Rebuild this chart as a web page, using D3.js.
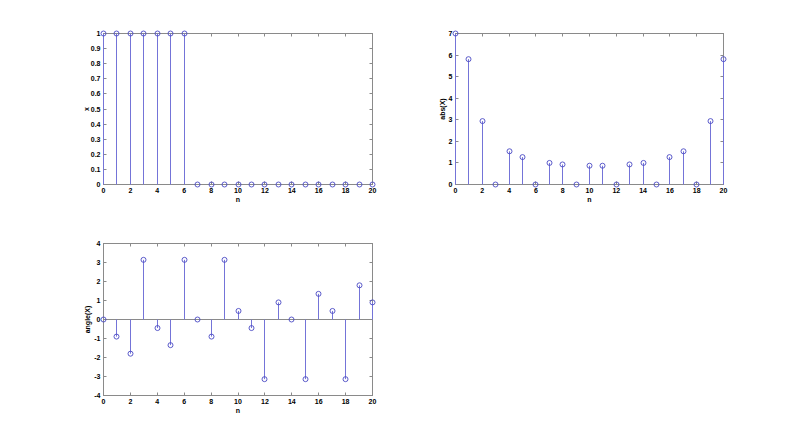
<!DOCTYPE html>
<html>
<head>
<meta charset="utf-8">
<script src="https://cdn.jsdelivr.net/npm/d3@7"></script>
<style>
html,body{margin:0;padding:0;background:#fff;}
svg{display:block;}
text{font-family:Arial,"Liberation Sans",sans-serif;font-weight:bold;font-size:7px;fill:#000;}
</style>
</head>
<body>
<svg id="chart" width="800" height="445"></svg>
<script>
// Data
const n = d3.range(0, 21);
const xVals = [1,1,1,1,1,1,1,0,0,0,0,0,0,0,0,0,0,0,0,0,0];
const absX = [7,5.81,2.94,0,1.54,1.27,0,1,0.93,0,0.87,0.87,0,0.93,1,0,1.27,1.54,0,2.94,5.81];
const angX = [0,-0.90,-1.80,3.14,-0.45,-1.35,3.14,0,-0.90,3.14,0.45,-0.45,-3.14,0.90,0,-3.14,1.35,0.45,-3.14,1.80,0.90];
const xTicks = [0,2,4,6,8,10,12,14,16,18,20];
const yTicks1 = [0,0.1,0.2,0.3,0.4,0.5,0.6,0.7,0.8,0.9,1];
const yTicks2 = [0,1,2,3,4,5,6,7];
const yTicks3 = [-4,-3,-2,-1,0,1,2,3,4];

const svg = d3.select("#chart");
const stemColor = "#7474d8";
const markColor = "#4a4ac4";
const axisColor = "#8a8a8a";

function panel(cfg){
  const {left,right,top,bottom,vals,ydom,yticks,ylabel,ylabelX} = cfg;
  const xs = d3.scaleLinear().domain([0,20]).range([left,right]);
  const ys = d3.scaleLinear().domain(ydom).range([bottom,top]);
  const px = v => Math.floor(v) + 0.5;
  const g = svg.append("g");
  g.append("rect").attr("x",left).attr("y",top).attr("width",right-left).attr("height",bottom-top)
    .attr("fill","none").attr("stroke",axisColor).attr("stroke-width",1);
  const tl = 3;
  xTicks.forEach(t=>{
    g.append("line").attr("x1",px(xs(t))).attr("x2",px(xs(t))).attr("y1",bottom).attr("y2",bottom-tl).attr("stroke",axisColor);
    g.append("line").attr("x1",px(xs(t))).attr("x2",px(xs(t))).attr("y1",top).attr("y2",top+tl).attr("stroke",axisColor);
    g.append("text").attr("x",xs(t)).attr("y",bottom+8.5).attr("text-anchor","middle").text(t);
  });
  yticks.forEach(t=>{
    g.append("line").attr("x1",left).attr("x2",left+tl).attr("y1",px(ys(t))).attr("y2",px(ys(t))).attr("stroke",axisColor);
    g.append("line").attr("x1",right).attr("x2",right-tl).attr("y1",px(ys(t))).attr("y2",px(ys(t))).attr("stroke",axisColor);
    g.append("text").attr("x",left-3).attr("y",ys(t)+2.5).attr("text-anchor","end").text(t);
  });
  if (ydom[0] < 0) {
    g.append("line").attr("x1",left).attr("x2",right).attr("y1",px(ys(0))).attr("y2",px(ys(0))).attr("stroke",axisColor);
  }
  g.selectAll(".stem").data(n).enter().append("line")
    .attr("x1",d=>px(xs(d))).attr("x2",d=>px(xs(d)))
    .attr("y1",ys(0)).attr("y2",d=>ys(vals[d]))
    .attr("stroke",stemColor).attr("stroke-width",1);
  g.selectAll(".mk").data(n).enter().append("circle")
    .attr("cx",d=>px(xs(d))).attr("cy",d=>ys(vals[d])).attr("r",2.5)
    .attr("fill","none").attr("stroke",markColor).attr("stroke-width",0.9);
  g.append("text").attr("x",(left+right)/2).attr("y",bottom+17).attr("text-anchor","middle").text("n");
  g.append("text").attr("transform",`translate(${ylabelX},${(top+bottom)/2}) rotate(-90)`)
    .attr("text-anchor","middle").text(ylabel);
}

panel({left:103.5,right:372.5,top:33.5,bottom:184.5,vals:xVals,ydom:[0,1],yticks:yTicks1,ylabel:"x",ylabelX:89});
panel({left:455.5,right:723.5,top:33.5,bottom:184.5,vals:absX,ydom:[0,7],yticks:yTicks2,ylabel:"abs(X)",ylabelX:445});
panel({left:103.5,right:372.5,top:243.5,bottom:395.5,vals:angX,ydom:[-4,4],yticks:yTicks3,ylabel:"angle(X)",ylabelX:90});
</script>
</body>
</html>
